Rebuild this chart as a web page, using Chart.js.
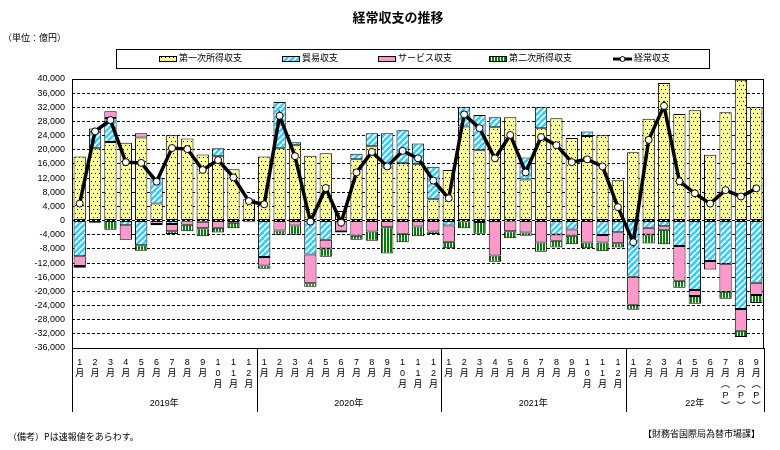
<!DOCTYPE html>
<html>
<head>
<meta charset="utf-8">
<script src="https://cdn.jsdelivr.net/npm/chart.js@4.4.0/dist/chart.umd.min.js"></script>
<style>
body { margin: 0; background: #fff; }
#wrap { position: relative; width: 780px; height: 450px; font-family: "Noto Sans CJK JP", sans-serif; color: #000; }
#c { position: absolute; left: 0; top: 0; }
.t { position: absolute; white-space: nowrap; line-height: 1; }
</style>
</head>
<body>
<div id="wrap">
  <canvas id="c" width="780" height="450"></canvas>
  <div class="t" style="left:0;width:796px;text-align:center;top:10px;font-size:13px;font-weight:bold;">経常収支の推移</div>
  <div class="t" style="left:3px;top:33px;font-size:9px;">（単位：億円）</div>
  <div class="t" style="left:8px;top:432px;font-size:9px;">（備考）Pは速報値をあらわす。</div>
  <div class="t" style="right:20px;top:429px;font-size:9px;">【財務省国際局為替市場課】</div>
</div>
<script>
// months Jan 2019 - Sep 2022 (values in 億円)
const monthLabels = [
  ['1','月'],['2','月'],['3','月'],['4','月'],['5','月'],['6','月'],['7','月'],['8','月'],['9','月'],['1','0','月'],['1','1','月'],['1','2','月'],
  ['1','月'],['2','月'],['3','月'],['4','月'],['5','月'],['6','月'],['7','月'],['8','月'],['9','月'],['1','0','月'],['1','1','月'],['1','2','月'],
  ['1','月'],['2','月'],['3','月'],['4','月'],['5','月'],['6','月'],['7','月'],['8','月'],['9','月'],['1','0','月'],['1','1','月'],['1','2','月'],
  ['1','月'],['2','月'],['3','月'],['4','月'],['5','月'],['6','月'],['7','月','︵','P','︶'],['8','月','︵','P','︶'],['9','月','︵','P','︶']
];
const years = ['2019年', '2020年', '2021年', '22年'];
const yearMonths = [12, 12, 12, 9];

const primaryIncome = [
  18100, 20400, 22200, 22000, 23500, 4800, 24100, 23200, 18700, 18200, 14500, 6000,
  18100, 20400, 21300, 18300, 19000, 2700, 17300, 21000, 15000, 16200, 15900, 6000,
  14300, 26600, 19900, 26400, 29200, 11600, 26100, 28900, 23300, 23900, 24100, 11400,
  19300, 28800, 38900, 30100, 31200, 18600, 30600, 39800, 32000
];
const tradeBalance = [
  -10100, 4700, 6800, -1300, -7000, 7400, -1000, -200, -300, 2200, -400, -100,
  -10300, 13100, 800, -9600, -5400, 100, 1600, 3700, 9700, 9300, 5900, 9200,
  -1400, 5400, 9900, 2800, -200, 6200, 5900, -3900, -2500, 1300, -4100, -3300,
  -15900, -2000, -1600, -7200, -19600, -11400, -12200, -25000, -17600
];
const servicesBalance = [
  -2700, 900, 1900, -4100, 1200, -1000, -2000, -1000, -1900, -2000, -200, -100,
  -2400, -2800, -1400, -8100, -2500, -2900, -4300, -3100, -1900, -3700, -1700, -3100,
  -4600, -200, -400, -9900, -2800, -3400, -6200, -1800, -1800, -6200, -2100, -3100,
  -7900, -1900, -1000, -9800, -1700, -2400, -7900, -6100, -3400
];
const secondaryIncome = [
  -500, -600, -2600, -100, -1500, -300, -800, -1800, -2200, -1400, -1600, -300,
  -900, -1200, -2600, -1000, -2300, -500, -1100, -2600, -7400, -2400, -2700, -700,
  -1800, -2000, -3300, -1700, -2000, -900, -2600, -1900, -2400, -1600, -2500, -1200,
  -1400, -2600, -4100, -2000, -2200, -100, -2000, -1800, -2300
];
const currentAccount = [
  4800, 25200, 28400, 16500, 16300, 11000, 20500, 20200, 14300, 17100, 12200, 5500,
  4600, 29600, 18200, -300, 9200, -600, 13600, 19400, 15300, 19700, 17600, 11300,
  6300, 30000, 26100, 17600, 24200, 13600, 23600, 21300, 16500, 17300, 15300, 3800,
  -6100, 22800, 32400, 11100, 7700, 4800, 8600, 6800, 9100
];

const FONT = '"Liberation Sans", "Noto Sans CJK JP", sans-serif';

function makePattern(w, h, draw) {
  const c = document.createElement('canvas');
  c.width = w; c.height = h;
  const g = c.getContext('2d');
  draw(g, w, h);
  return g.createPattern(c, 'repeat');
}

const yellowDots = makePattern(4, 8, (g, w, h) => {
  g.fillStyle = '#ffff99'; g.fillRect(0, 0, w, h);
  g.fillStyle = '#000'; g.fillRect(1, 1, 1, 1); g.fillRect(3, 5, 1, 1);
});
const cyanStripes = makePattern(6, 6, (g, w, h) => {
  g.fillStyle = '#33ccff'; g.fillRect(0, 0, w, h);
  g.strokeStyle = '#fff'; g.lineWidth = 1.7;
  for (let k = -6; k <= 6; k += 6) {
    g.beginPath(); g.moveTo(k, h); g.lineTo(k + w, 0); g.stroke();
  }
});
const pinkFill = '#ff99cc';
const greenStripes = makePattern(3, 4, (g, w, h) => {
  g.fillStyle = '#fff'; g.fillRect(0, 0, w, h);
  g.fillStyle = '#008000'; g.fillRect(0, 0, 2, h);
});

const legendItems = [
  { text: '第一次所得収支', fill: yellowDots, x: 159 },
  { text: '貿易収支', fill: cyanStripes, x: 282 },
  { text: 'サービス収支', fill: pinkFill, x: 378 },
  { text: '第二次所得収支', fill: greenStripes, x: 489 },
  { text: '経常収支', line: true, x: 613 }
];

const extras = {
  id: 'extras',
  afterDraw(chart) {
    const { ctx, chartArea: a, scales: { x } } = chart;
    ctx.save();
    ctx.strokeStyle = '#000';
    ctx.lineWidth = 1;
    ctx.strokeRect(Math.round(a.left) + 0.5, Math.round(a.top) + 0.5, Math.round(a.right - a.left) - 1, Math.round(a.bottom - a.top));

    // year row with separators
    const step = (x.right - x.left) / monthLabels.length;
    ctx.font = '9px ' + FONT;
    ctx.fillStyle = '#000';
    ctx.textAlign = 'center';
    ctx.textBaseline = 'middle';
    let start = 0;
    const sepX = [x.left];
    years.forEach((y, i) => {
      const x0 = x.left + start * step;
      const x1 = x.left + (start + yearMonths[i]) * step;
      ctx.fillText(y, (x0 + x1) / 2, 404);
      sepX.push(x1);
      start += yearMonths[i];
    });
    ctx.beginPath();
    sepX.forEach(px => {
      const p = Math.round(px) + 0.5;
      ctx.moveTo(p, a.bottom);
      ctx.lineTo(p, 412);
    });
    ctx.stroke();

    // legend
    ctx.strokeRect(116.5, 49.5, 593, 19);
    ctx.textAlign = 'left';
    ctx.font = '9px ' + FONT;
    legendItems.forEach(it => {
      if (it.line) {
        ctx.beginPath();
        ctx.lineWidth = 3;
        ctx.moveTo(it.x, 59); ctx.lineTo(it.x + 19, 59); ctx.stroke();
        ctx.lineWidth = 1;
        ctx.beginPath(); ctx.arc(it.x + 9.5, 59, 2.5, 0, Math.PI * 2);
        ctx.fillStyle = '#fff'; ctx.fill(); ctx.stroke();
        ctx.fillStyle = '#000';
        ctx.fillText(it.text, it.x + 21, 59);
      } else {
        ctx.fillStyle = it.fill;
        ctx.fillRect(it.x, 56, 18, 6);
        ctx.strokeRect(it.x + 0.5, 56.5, 17, 5);
        ctx.fillStyle = '#000';
        ctx.fillText(it.text, it.x + 20, 59);
      }
    });
    ctx.restore();
  }
};

function barSet(label, data, fill) {
  return {
    type: 'bar', label, data, backgroundColor: fill, borderColor: '#000', borderWidth: 1,
    borderSkipped: false, barPercentage: 0.8, categoryPercentage: 1.0, stack: 'bal', order: 1
  };
}

new Chart(document.getElementById('c'), {
  data: {
    labels: monthLabels,
    datasets: [
      {
        type: 'line', label: '経常収支', data: currentAccount, stack: 'ca', order: 0,
        borderColor: '#000', borderWidth: 3.5, tension: 0,
        pointRadius: 3.5, pointBackgroundColor: '#fff', pointBorderColor: '#000', pointBorderWidth: 1
      },
      barSet('第一次所得収支', primaryIncome, yellowDots),
      barSet('貿易収支', tradeBalance, cyanStripes),
      barSet('サービス収支', servicesBalance, pinkFill),
      barSet('第二次所得収支', secondaryIncome, greenStripes)
    ]
  },
  options: {
    responsive: false,
    animation: false,
    layout: { padding: { top: 79, right: 16, left: 0, bottom: 0 } },
    plugins: { legend: { display: false }, tooltip: { enabled: false }, title: { display: false } },
    scales: {
      x: {
        stacked: true,
        grid: { display: false },
        border: { display: false },
        ticks: {
          autoSkip: false, maxRotation: 0, minRotation: 0, padding: 1, color: '#000',
          font: { size: 9, family: FONT, lineHeight: '11px' }
        },
        afterFit(scale) { scale.height = 102; }
      },
      y: {
        stacked: true,
        min: -36000, max: 40000,
        grid: { color: '#000', lineWidth: 1, drawTicks: false },
        border: { display: false, dash: [3, 2] },
        ticks: {
          stepSize: 4000, padding: 7, color: '#000',
          font: { size: 9, family: FONT },
          callback: v => v.toLocaleString('en-US')
        },
        afterFit(scale) { scale.width = 72; }
      }
    }
  },
  plugins: [extras]
});
</script>
</body>
</html>
